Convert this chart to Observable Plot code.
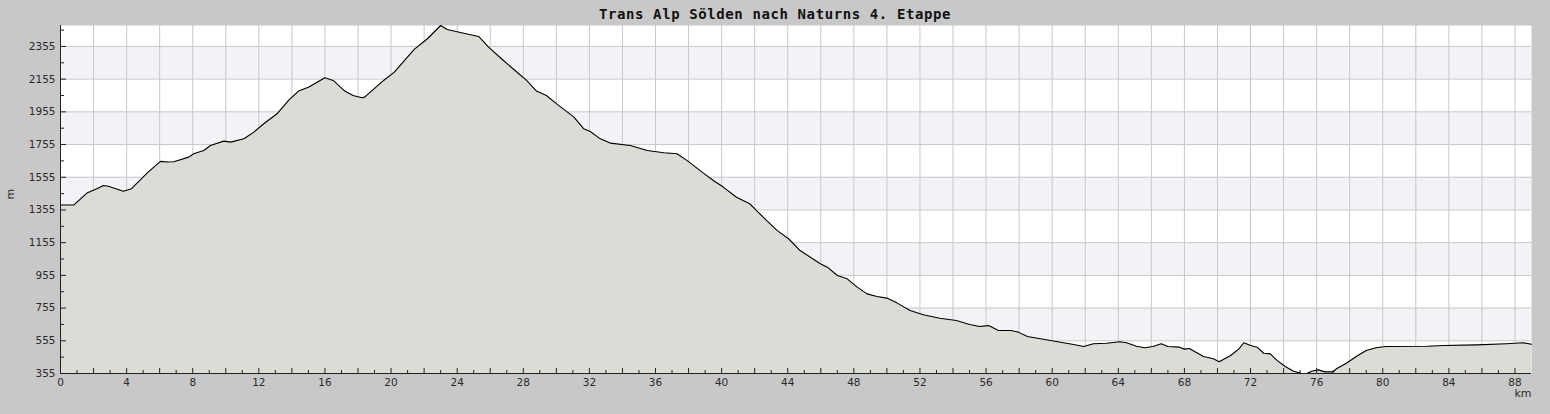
<!DOCTYPE html>
<html><head><meta charset="utf-8">
<script src="https://cdn.jsdelivr.net/npm/d3@7"></script>
<script src="https://cdn.jsdelivr.net/npm/@observablehq/plot@0.6"></script>
<style>
body{margin:0;background:#c8c8c8;width:1550px;height:414px;overflow:hidden}
#title{height:20px;line-height:28px;text-align:center;font-family:"DejaVu Sans Mono",monospace;font-size:14px;font-weight:bold;letter-spacing:0.6px;color:#111;white-space:nowrap}
#chart svg{display:block}
</style></head><body>
<div id="title">Trans Alp Sölden nach Naturns 4. Etappe</div>
<div id="chart"></div>
<script>
const km = [0, 0.8, 1.6, 2.2, 2.6, 2.9, 3.8, 4.3, 5.3, 6.05,
  6.5, 6.85, 7.76, 8.06, 8.67, 9.07, 9.88, 10.3, 11.1, 11.7,
  12.3, 13.1, 13.8, 14.4, 15.0, 16.0, 16.5, 17.2, 17.7, 18.25,
  18.4, 19.55, 20.2, 21.4, 22.2, 23.0, 23.4, 24.4, 25.3, 25.9,
  26.8, 27.5, 28.2, 28.8, 29.4, 30.0, 31.05, 31.65, 32.05, 32.66,
  33.26, 34.47, 35.5, 36.5, 37.3, 37.9, 38.9, 39.5, 40.1, 40.9,
  41.7, 42.1, 43.35, 44.05, 44.75, 45.97, 46.4, 47.0, 47.6, 48.2,
  48.8, 49.4, 50.0, 50.6, 51.4, 52.2, 53.2, 54.2, 55.0, 55.6,
  56.15, 56.75, 57.5, 57.95, 58.5, 59.9, 60.5, 61.3, 61.9, 62.5,
  63.3, 64.1, 64.5, 65.1, 65.6, 66.1, 66.6, 67.0, 67.7, 68.0,
  68.3, 69.15, 69.75, 70.1, 70.8, 71.3, 71.6, 72.0, 72.4, 72.8,
  73.2, 73.6, 74.1, 74.6, 75.1, 75.4, 75.7, 76.1, 76.5, 77.0,
  77.2, 77.8, 78.4, 79.0, 79.6, 80.2, 82.7, 83.7, 85.7, 87.5,
  88.5, 89.0];
const elevation = [1385, 1385, 1458, 1485, 1505, 1500, 1470, 1485, 1586, 1652,
  1648, 1650, 1678, 1699, 1719, 1749, 1776, 1770, 1790, 1831,
  1882, 1943, 2025, 2082, 2106, 2163, 2147, 2082, 2055, 2041,
  2045, 2147, 2198, 2337, 2402, 2483, 2459, 2436, 2416, 2351,
  2269, 2208, 2147, 2082, 2055, 2005, 1924, 1852, 1835, 1790,
  1764, 1749, 1719, 1705, 1699, 1658, 1580, 1535, 1495, 1433,
  1393, 1352, 1230, 1179, 1107, 1026, 1005, 954, 934, 883,
  842, 826, 816, 787, 740, 714, 693, 679, 655, 642,
  648, 618, 618, 608, 581, 557, 546, 532, 520, 537,
  540, 549, 543, 522, 512, 520, 537, 520, 516, 504,
  508, 459, 445, 427, 465, 506, 543, 526, 516, 479,
  475, 435, 398, 369, 355, 355, 369, 377, 365, 365,
  384, 418, 459, 496, 512, 520, 522, 526, 530, 537,
  543, 534];

const xDomain = [0, 89];
const yDomain = [355, 2483];
const xMajorTicks = d3.range(0, 89, 2);
const xMinorTicks = d3.range(1, 89, 2);
const xTickLabels = d3.range(0, 89, 4);
const yMajorTicks = d3.range(355, 2400, 200);
const yMinorTicks = d3.range(455, 2483, 200);
const bandStarts = [555, 955, 1355, 1755, 2155];
const bandSize = 200;

const profile = km.map((k, i) => ({km: k, m: elevation[i]}));

const axisColor = "#222";
const chart = Plot.plot({
  width: 1550,
  height: 394,
  marginTop: 5,
  marginBottom: 41,
  marginLeft: 60,
  marginRight: 19,
  style: {background: "transparent", fontFamily: "'DejaVu Sans', sans-serif", fontSize: "10.5px", color: "#2a2a2a", overflow: "visible"},
  x: {domain: xDomain},
  y: {domain: yDomain},
  marks: [
    Plot.frame({fill: "#ffffff", stroke: null}),
    Plot.rect(bandStarts, {y1: d => d, y2: d => d + bandSize, fill: "#f3f2f6"}),
    Plot.gridX(xMajorTicks, {stroke: "#c8c8c8", strokeOpacity: 1}),
    Plot.gridY(yMajorTicks, {stroke: "#c8c8c8", strokeOpacity: 1}),
    Plot.areaY(profile, {x: "km", y: "m", fill: "#dcdcd6", clip: true}),
    Plot.line(profile, {x: "km", y: "m", stroke: "#000", strokeWidth: 1.1}),
    Plot.ruleX([xDomain[0]], {stroke: axisColor}),
    Plot.ruleY([yDomain[0]], {stroke: axisColor}),
    Plot.axisX(xMajorTicks, {tickSize: -5, tickFormat: () => "", stroke: axisColor, label: null}),
    Plot.axisX(xMinorTicks, {tickSize: -3, tickFormat: () => "", stroke: axisColor, label: null}),
    Plot.axisX(xTickLabels, {tickSize: 0, tickPadding: 5, tickFormat: "d", fill: "#2a2a2a", label: null}),
    Plot.axisY(yMajorTicks, {tickSize: -6, tickFormat: () => "", stroke: axisColor, label: null}),
    Plot.axisY(yMinorTicks, {tickSize: -4, tickFormat: () => "", stroke: axisColor, label: null}),
    Plot.axisY(yMajorTicks, {tickSize: 0, tickPadding: 5, tickFormat: "d", fill: "#2a2a2a", label: null}),
    Plot.text(["m"], {frameAnchor: "left", dx: -50, rotate: -90, fill: "#2a2a2a", fontSize: 11}),
    Plot.text(["km"], {frameAnchor: "bottom-right", dy: 20, textAnchor: "end", lineAnchor: "middle", fill: "#2a2a2a", fontSize: 11})
  ]
});
document.getElementById("chart").appendChild(chart);
</script>
</body></html>
